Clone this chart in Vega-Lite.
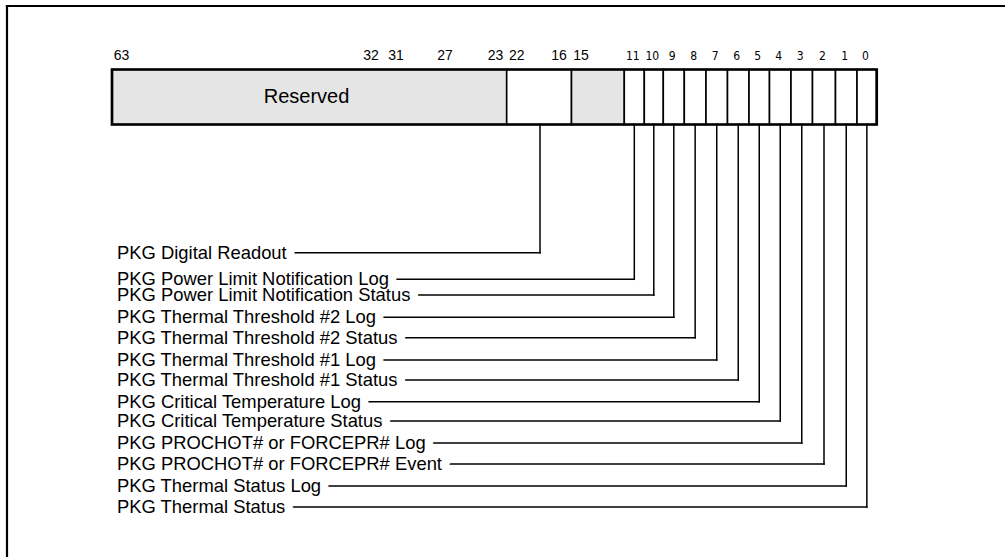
{
  "$schema": "https://vega.github.io/schema/vega-lite/v6.json",
  "width": 1012,
  "height": 557,
  "autosize": "none",
  "padding": 0,
  "background": "white",
  "config": {"view": {"stroke": "transparent", "strokeWidth": 0, "fill": "white"}},
  "datasets": {
    "fields": [
      {"field": "Reserved", "from": 63.5, "to": 22.5, "kind": "reserved"},
      {"field": "PKG Digital Readout", "from": 22.5, "to": 15.5, "kind": "used"},
      {"field": "Reserved", "from": 15.5, "to": 11.5, "kind": "reserved"},
      {"field": "bit 11", "from": 11.5, "to": 10.5, "kind": "used"},
      {"field": "bit 10", "from": 10.5, "to": 9.5, "kind": "used"},
      {"field": "bit 9", "from": 9.5, "to": 8.5, "kind": "used"},
      {"field": "bit 8", "from": 8.5, "to": 7.5, "kind": "used"},
      {"field": "bit 7", "from": 7.5, "to": 6.5, "kind": "used"},
      {"field": "bit 6", "from": 6.5, "to": 5.5, "kind": "used"},
      {"field": "bit 5", "from": 5.5, "to": 4.5, "kind": "used"},
      {"field": "bit 4", "from": 4.5, "to": 3.5, "kind": "used"},
      {"field": "bit 3", "from": 3.5, "to": 2.5, "kind": "used"},
      {"field": "bit 2", "from": 2.5, "to": 1.5, "kind": "used"},
      {"field": "bit 1", "from": 1.5, "to": 0.5, "kind": "used"},
      {"field": "bit 0", "from": 0.5, "to": -0.5, "kind": "used"}
    ],
    "bits": [
      {"bit": 63}, {"bit": 32}, {"bit": 31}, {"bit": 27}, {"bit": 23}, {"bit": 22},
      {"bit": 16}, {"bit": 15}, {"bit": 11}, {"bit": 10}, {"bit": 9}, {"bit": 8},
      {"bit": 7}, {"bit": 6}, {"bit": 5}, {"bit": 4}, {"bit": 3}, {"bit": 2},
      {"bit": 1}, {"bit": 0}
    ],
    "labels": [
      {"row": 0, "bit": 19, "label": "PKG Digital Readout"},
      {"row": 1, "bit": 11, "label": "PKG Power Limit Notification Log"},
      {"row": 2, "bit": 10, "label": "PKG Power Limit Notification Status"},
      {"row": 3, "bit": 9, "label": "PKG Thermal Threshold #2 Log"},
      {"row": 4, "bit": 8, "label": "PKG Thermal Threshold #2 Status"},
      {"row": 5, "bit": 7, "label": "PKG Thermal Threshold #1 Log"},
      {"row": 6, "bit": 6, "label": "PKG Thermal Threshold #1 Status"},
      {"row": 7, "bit": 5, "label": "PKG Critical Temperature Log"},
      {"row": 8, "bit": 4, "label": "PKG Critical Temperature Status"},
      {"row": 9, "bit": 3, "label": "PKG PROCHOT# or FORCEPR# Log"},
      {"row": 10, "bit": 2, "label": "PKG PROCHOT# or FORCEPR# Event"},
      {"row": 11, "bit": 1, "label": "PKG Thermal Status Log"},
      {"row": 12, "bit": 0, "label": "PKG Thermal Status"}
    ],
    "reservedText": [{"text": "Reserved", "bit": 43}]
  },
  "layer": [
    {
      "data": {"values": [{"frame": "top"}]},
      "mark": {"type": "rule", "color": "black", "strokeWidth": 2.2, "strokeCap": "square"},
      "encoding": {
        "x": {"datum": 69.5, "type": "quantitative", "axis": null, "scale": {"type": "linear", "zero": false, "nice": false, "domain": [-20,-0.5,0.5,1.5,2.5,3.5,4.5,5.5,6.5,7.5,8.5,9.5,10.5,11.5,15,15.5,16,19,22,22.5,23,27,31,32,43,63,63.5,69.5], "range": [1100,876.7,857,835.5,812.5,791,769.5,749,727.5,706,684.3,663.3,644.3,624.3,581,571.5,559,540,516.7,506.7,495.5,445,396,371,306.5,121.5,112,7]}},
        "x2": {"datum": -20},
        "y": {"datum": -4, "type": "quantitative", "axis": null, "scale": {"type": "linear", "zero": false, "nice": false, "domain": [-4,-3,-2,-1,0,1,2,3,4,5,6,7,8,9,10,11,12,20], "range": [6,60,69.5,124.5,252.7,279.3,295,317.3,337.7,360,380,401.7,421,443,464,486,507,700]}}
      }
    },
    {
      "data": {"values": [{"frame": "left"}]},
      "mark": {"type": "rule", "color": "black", "strokeWidth": 2.2, "strokeCap": "square"},
      "encoding": {
        "x": {"datum": 69.5, "type": "quantitative", "axis": null, "scale": {"type": "linear", "zero": false, "nice": false, "domain": [-20,-0.5,0.5,1.5,2.5,3.5,4.5,5.5,6.5,7.5,8.5,9.5,10.5,11.5,15,15.5,16,19,22,22.5,23,27,31,32,43,63,63.5,69.5], "range": [1100,876.7,857,835.5,812.5,791,769.5,749,727.5,706,684.3,663.3,644.3,624.3,581,571.5,559,540,516.7,506.7,495.5,445,396,371,306.5,121.5,112,7]}},
        "y": {"datum": -4, "type": "quantitative", "axis": null, "scale": {"type": "linear", "zero": false, "nice": false, "domain": [-4,-3,-2,-1,0,1,2,3,4,5,6,7,8,9,10,11,12,20], "range": [6,60,69.5,124.5,252.7,279.3,295,317.3,337.7,360,380,401.7,421,443,464,486,507,700]}},
        "y2": {"datum": 20}
      }
    },
    {
      "data": {"name": "fields"},
      "mark": {"type": "rect", "stroke": "black", "strokeWidth": 1.6},
      "encoding": {
        "x": {"field": "from", "type": "quantitative", "axis": null, "scale": {"type": "linear", "zero": false, "nice": false, "domain": [-20,-0.5,0.5,1.5,2.5,3.5,4.5,5.5,6.5,7.5,8.5,9.5,10.5,11.5,15,15.5,16,19,22,22.5,23,27,31,32,43,63,63.5,69.5], "range": [1100,876.7,857,835.5,812.5,791,769.5,749,727.5,706,684.3,663.3,644.3,624.3,581,571.5,559,540,516.7,506.7,495.5,445,396,371,306.5,121.5,112,7]}},
        "x2": {"field": "to"},
        "y": {"datum": -2, "type": "quantitative", "axis": null, "scale": {"type": "linear", "zero": false, "nice": false, "domain": [-4,-3,-2,-1,0,1,2,3,4,5,6,7,8,9,10,11,12,20], "range": [6,60,69.5,124.5,252.7,279.3,295,317.3,337.7,360,380,401.7,421,443,464,486,507,700]}},
        "y2": {"datum": -1},
        "fill": {"field": "kind", "type": "nominal", "legend": null, "scale": {"domain": ["reserved", "used"], "range": ["#e5e5e5", "#ffffff"]}}
      }
    },
    {
      "data": {"values": [{"box": "register"}]},
      "mark": {"type": "rect", "fill": "transparent", "stroke": "black", "strokeWidth": 2.7},
      "encoding": {
        "x": {"datum": 63.5, "type": "quantitative", "axis": null, "scale": {"type": "linear", "zero": false, "nice": false, "domain": [-20,-0.5,0.5,1.5,2.5,3.5,4.5,5.5,6.5,7.5,8.5,9.5,10.5,11.5,15,15.5,16,19,22,22.5,23,27,31,32,43,63,63.5,69.5], "range": [1100,876.7,857,835.5,812.5,791,769.5,749,727.5,706,684.3,663.3,644.3,624.3,581,571.5,559,540,516.7,506.7,495.5,445,396,371,306.5,121.5,112,7]}},
        "x2": {"datum": -0.5},
        "y": {"datum": -2, "type": "quantitative", "axis": null, "scale": {"type": "linear", "zero": false, "nice": false, "domain": [-4,-3,-2,-1,0,1,2,3,4,5,6,7,8,9,10,11,12,20], "range": [6,60,69.5,124.5,252.7,279.3,295,317.3,337.7,360,380,401.7,421,443,464,486,507,700]}},
        "y2": {"datum": -1}
      }
    },
    {
      "data": {"name": "reservedText"},
      "mark": {"type": "text", "font": "Liberation Sans", "fontSize": 20, "align": "center", "baseline": "middle", "color": "black"},
      "encoding": {
        "x": {"field": "bit", "type": "quantitative", "axis": null, "scale": {"type": "linear", "zero": false, "nice": false, "domain": [-20,-0.5,0.5,1.5,2.5,3.5,4.5,5.5,6.5,7.5,8.5,9.5,10.5,11.5,15,15.5,16,19,22,22.5,23,27,31,32,43,63,63.5,69.5], "range": [1100,876.7,857,835.5,812.5,791,769.5,749,727.5,706,684.3,663.3,644.3,624.3,581,571.5,559,540,516.7,506.7,495.5,445,396,371,306.5,121.5,112,7]}},
        "y": {"datum": -1.5, "type": "quantitative", "axis": null, "scale": {"type": "linear", "zero": false, "nice": false, "domain": [-4,-3,-2,-1,0,1,2,3,4,5,6,7,8,9,10,11,12,20], "range": [6,60,69.5,124.5,252.7,279.3,295,317.3,337.7,360,380,401.7,421,443,464,486,507,700]}},
        "text": {"field": "text", "type": "nominal"}
      }
    },
    {
      "data": {"name": "bits"},
      "transform": [{"filter": "datum.bit >= 12"}],
      "mark": {"type": "text", "font": "Liberation Sans", "fontSize": 14, "align": "center", "baseline": "alphabetic", "color": "black"},
      "encoding": {
        "x": {"field": "bit", "type": "quantitative", "axis": null, "scale": {"type": "linear", "zero": false, "nice": false, "domain": [-20,-0.5,0.5,1.5,2.5,3.5,4.5,5.5,6.5,7.5,8.5,9.5,10.5,11.5,15,15.5,16,19,22,22.5,23,27,31,32,43,63,63.5,69.5], "range": [1100,876.7,857,835.5,812.5,791,769.5,749,727.5,706,684.3,663.3,644.3,624.3,581,571.5,559,540,516.7,506.7,495.5,445,396,371,306.5,121.5,112,7]}},
        "y": {"datum": -3, "type": "quantitative", "axis": null, "scale": {"type": "linear", "zero": false, "nice": false, "domain": [-4,-3,-2,-1,0,1,2,3,4,5,6,7,8,9,10,11,12,20], "range": [6,60,69.5,124.5,252.7,279.3,295,317.3,337.7,360,380,401.7,421,443,464,486,507,700]}},
        "text": {"field": "bit", "type": "nominal"}
      }
    },
    {
      "data": {"name": "bits"},
      "transform": [{"filter": "datum.bit <= 11"}],
      "mark": {"type": "text", "font": "Liberation Sans Narrow, DejaVu Sans Condensed, sans-serif", "fontSize": 12, "align": "center", "baseline": "alphabetic", "dx": -1.5, "color": "black"},
      "encoding": {
        "x": {"field": "bit", "type": "quantitative", "axis": null, "scale": {"type": "linear", "zero": false, "nice": false, "domain": [-20,-0.5,0.5,1.5,2.5,3.5,4.5,5.5,6.5,7.5,8.5,9.5,10.5,11.5,15,15.5,16,19,22,22.5,23,27,31,32,43,63,63.5,69.5], "range": [1100,876.7,857,835.5,812.5,791,769.5,749,727.5,706,684.3,663.3,644.3,624.3,581,571.5,559,540,516.7,506.7,495.5,445,396,371,306.5,121.5,112,7]}},
        "y": {"datum": -3, "type": "quantitative", "axis": null, "scale": {"type": "linear", "zero": false, "nice": false, "domain": [-4,-3,-2,-1,0,1,2,3,4,5,6,7,8,9,10,11,12,20], "range": [6,60,69.5,124.5,252.7,279.3,295,317.3,337.7,360,380,401.7,421,443,464,486,507,700]}},
        "text": {"field": "bit", "type": "nominal"}
      }
    },
    {
      "data": {"name": "labels"},
      "mark": {"type": "rule", "color": "black", "strokeWidth": 1.5, "strokeCap": "square"},
      "encoding": {
        "x": {"field": "bit", "type": "quantitative", "axis": null, "scale": {"type": "linear", "zero": false, "nice": false, "domain": [-20,-0.5,0.5,1.5,2.5,3.5,4.5,5.5,6.5,7.5,8.5,9.5,10.5,11.5,15,15.5,16,19,22,22.5,23,27,31,32,43,63,63.5,69.5], "range": [1100,876.7,857,835.5,812.5,791,769.5,749,727.5,706,684.3,663.3,644.3,624.3,581,571.5,559,540,516.7,506.7,495.5,445,396,371,306.5,121.5,112,7]}},
        "y": {"field": "row", "type": "quantitative", "axis": null, "scale": {"type": "linear", "zero": false, "nice": false, "domain": [-4,-3,-2,-1,0,1,2,3,4,5,6,7,8,9,10,11,12,20], "range": [6,60,69.5,124.5,252.7,279.3,295,317.3,337.7,360,380,401.7,421,443,464,486,507,700]}},
        "y2": {"datum": -1}
      }
    },
    {
      "data": {"name": "labels"},
      "mark": {"type": "rule", "color": "black", "strokeWidth": 1.5, "strokeCap": "square"},
      "encoding": {
        "x": {"field": "bit", "type": "quantitative", "axis": null, "scale": {"type": "linear", "zero": false, "nice": false, "domain": [-20,-0.5,0.5,1.5,2.5,3.5,4.5,5.5,6.5,7.5,8.5,9.5,10.5,11.5,15,15.5,16,19,22,22.5,23,27,31,32,43,63,63.5,69.5], "range": [1100,876.7,857,835.5,812.5,791,769.5,749,727.5,706,684.3,663.3,644.3,624.3,581,571.5,559,540,516.7,506.7,495.5,445,396,371,306.5,121.5,112,7]}},
        "x2": {"datum": 63.5},
        "y": {"field": "row", "type": "quantitative", "axis": null, "scale": {"type": "linear", "zero": false, "nice": false, "domain": [-4,-3,-2,-1,0,1,2,3,4,5,6,7,8,9,10,11,12,20], "range": [6,60,69.5,124.5,252.7,279.3,295,317.3,337.7,360,380,401.7,421,443,464,486,507,700]}}
      }
    },
    {
      "data": {"name": "labels"},
      "mark": {"type": "text", "font": "Liberation Sans", "fontSize": 18.4, "align": "left", "baseline": "middle", "dx": 5, "fill": "white", "stroke": "white", "strokeWidth": 17, "strokeJoin": "round"},
      "encoding": {
        "x": {"datum": 63.5, "type": "quantitative", "axis": null, "scale": {"type": "linear", "zero": false, "nice": false, "domain": [-20,-0.5,0.5,1.5,2.5,3.5,4.5,5.5,6.5,7.5,8.5,9.5,10.5,11.5,15,15.5,16,19,22,22.5,23,27,31,32,43,63,63.5,69.5], "range": [1100,876.7,857,835.5,812.5,791,769.5,749,727.5,706,684.3,663.3,644.3,624.3,581,571.5,559,540,516.7,506.7,495.5,445,396,371,306.5,121.5,112,7]}},
        "y": {"field": "row", "type": "quantitative", "axis": null, "scale": {"type": "linear", "zero": false, "nice": false, "domain": [-4,-3,-2,-1,0,1,2,3,4,5,6,7,8,9,10,11,12,20], "range": [6,60,69.5,124.5,252.7,279.3,295,317.3,337.7,360,380,401.7,421,443,464,486,507,700]}},
        "text": {"field": "label", "type": "nominal"}
      }
    },
    {
      "data": {"name": "labels"},
      "mark": {"type": "text", "font": "Liberation Sans", "fontSize": 18.4, "align": "left", "baseline": "middle", "dx": 5, "color": "black"},
      "encoding": {
        "x": {"datum": 63.5, "type": "quantitative", "axis": null, "scale": {"type": "linear", "zero": false, "nice": false, "domain": [-20,-0.5,0.5,1.5,2.5,3.5,4.5,5.5,6.5,7.5,8.5,9.5,10.5,11.5,15,15.5,16,19,22,22.5,23,27,31,32,43,63,63.5,69.5], "range": [1100,876.7,857,835.5,812.5,791,769.5,749,727.5,706,684.3,663.3,644.3,624.3,581,571.5,559,540,516.7,506.7,495.5,445,396,371,306.5,121.5,112,7]}},
        "y": {"field": "row", "type": "quantitative", "axis": null, "scale": {"type": "linear", "zero": false, "nice": false, "domain": [-4,-3,-2,-1,0,1,2,3,4,5,6,7,8,9,10,11,12,20], "range": [6,60,69.5,124.5,252.7,279.3,295,317.3,337.7,360,380,401.7,421,443,464,486,507,700]}},
        "text": {"field": "label", "type": "nominal"}
      }
    }
  ]
}
